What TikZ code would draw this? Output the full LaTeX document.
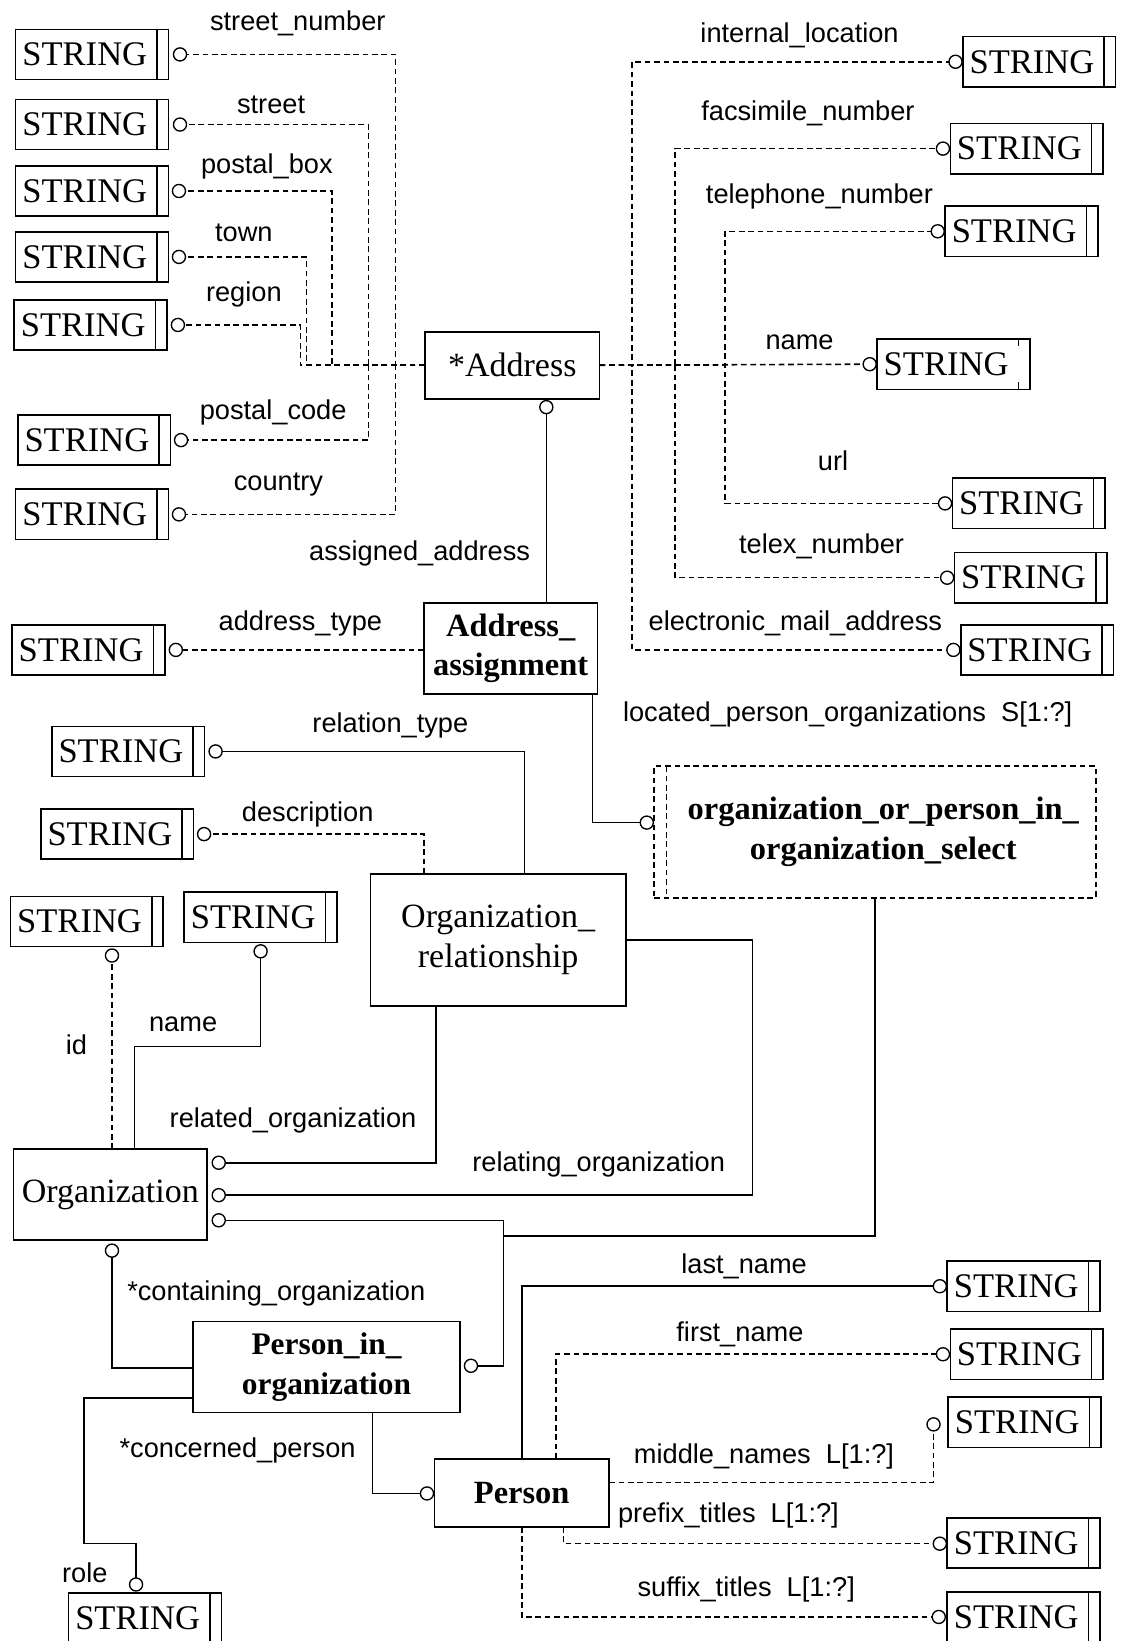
\documentclass[tikz,border=0pt]{standalone}
\usepackage{fontspec}
\setmainfont{Liberation Serif}
\newfontfamily\lblfont{Liberation Sans}
\begin{document}
\begin{tikzpicture}[x=1pt,y=-1pt,
  every node/.style={inner sep=0pt, outer sep=0pt},
  ln/.style={line width=1.5pt},
  dl/.style={line width=1.5pt, dash pattern=on 5.5pt off 3.5pt},
  strbox/.style={draw, line width=1.5pt, minimum width=146pt, minimum height=48pt, font=\fontsize{33}{36}\selectfont},
  ent/.style={draw, line width=1.5pt, align=center, font=\fontsize{32.5}{38}\selectfont},
  bent/.style={draw, line width=1.5pt, align=center, font=\fontsize{31}{38}\selectfont\bfseries},
  oc/.style={circle, draw, fill=white, line width=1.3pt, minimum size=12.5pt},
  lbl/.style={anchor=base, font=\lblfont\fontsize{26}{30}\selectfont},
]
\newcommand\strnode[3]{%
  \node[strbox] (#1) at (#2,#3) {\hspace*{-14pt}STRING};
  \draw[line width=1.5pt] ([xshift=-11pt]#1.north east) -- ([xshift=-11pt]#1.south east);}

\fill[white] (0,0) rectangle (1071,1568);
\useasboundingbox (0,0) rectangle (1071,1568);

% ---------- entities ----------
\node[ent, minimum width=167pt, minimum height=64pt] (A) at (489.5,349) {*Address};
\node[bent, minimum width=166pt, minimum height=87pt] (AA) at (488,619.5) {Address\_\\assignment};
\node[draw, dl, align=center, minimum width=422pt, minimum height=126pt,
      font=\fontsize{31}{38}\selectfont\bfseries] (SEL) at (836,795)
      {\hspace*{16pt}organization\_or\_person\_in\_\\\hspace*{16pt}organization\_select};
\draw[dl] ([xshift=12pt]SEL.north west) -- ([xshift=12pt]SEL.south west);
\node[ent, minimum width=244pt, minimum height=126pt] (OR) at (476,898) {Organization\_\\relationship};
\node[ent, minimum width=185pt, minimum height=87pt] (ORG) at (105.5,1141.5) {Organization};
\node[bent, font=\fontsize{30}{38}\selectfont\bfseries, minimum width=255pt, minimum height=87pt] (PIO) at (312,1306) {Person\_in\_\\organization};
\node[bent, minimum width=167pt, minimum height=65pt] (P) at (498.5,1426.5) {Person};

% ---------- STRING boxes ----------
\strnode{SN}{88}{52}
\strnode{ST}{88}{119}
\strnode{PB}{88}{182.5}
\strnode{TW}{88}{245.5}
\strnode{RG}{86.5}{310.5}
\strnode{PC}{90}{420.5}
\strnode{CT}{88}{491.5}
\strnode{IL}{993}{59}
\strnode{FX}{981}{142}
\strnode{TP}{976}{221}
\node[strbox] (N2) at (911,348) {\hspace*{-14pt}STRING};
\draw[line width=1.5pt] ([xshift=-11pt]N2.north east) -- ++(0,7);
\draw[line width=1.5pt] ([xshift=-11pt]N2.south east) -- ++(0,-7);
\strnode{URL}{983}{481}
\strnode{TX}{985}{552}
\strnode{EM}{991}{621}
\strnode{AT}{84.5}{621}
\strnode{RT}{122.5}{718}
\strnode{DS}{112}{797}
\strnode{ID}{83}{880.5}
\strnode{NM}{249}{876.5}
\strnode{LN}{978}{1229}
\strnode{FN}{981}{1294}
\strnode{MN}{979}{1359}
\strnode{PT}{978}{1474.5}
\strnode{SF}{978}{1545}
\strnode{RL}{138.5}{1546}

% ---------- circles ----------
\node[oc] (cSN) at (172,52) {};
\node[oc] (cST) at (172,119) {};
\node[oc] (cPB) at (171,182.5) {};
\node[oc] (cTW) at (171,245.5) {};
\node[oc] (cRG) at (170,310.5) {};
\node[oc] (cPC) at (173,420.5) {};
\node[oc] (cCT) at (171,491.5) {};
\node[oc] (cIL) at (913,59) {};
\node[oc] (cFX) at (901,142) {};
\node[oc] (cTP) at (896,221) {};
\node[oc] (cN2) at (831,348) {};
\node[oc] (cURL) at (903,481) {};
\node[oc] (cTX) at (905,552) {};
\node[oc] (cEM) at (911,621) {};
\node[oc] (cAD) at (522,389) {};
\node[oc] (cAT) at (168,621) {};
\node[oc] (cSEL) at (618,786) {};
\node[oc] (cRT) at (206,718) {};
\node[oc] (cDS) at (195,797) {};
\node[oc] (cID) at (107,913) {};
\node[oc] (cNM) at (249,909) {};
\node[oc] (cRO) at (209,1111) {};
\node[oc] (cRG2) at (209,1142) {};
\node[oc] (cSO) at (209,1166) {};
\node[oc] (cCO) at (107,1195) {};
\node[oc] (cPIO) at (450,1305) {};
\node[oc] (cP) at (408,1427) {};
\node[oc] (cLN) at (898,1229) {};
\node[oc] (cFN) at (901,1294) {};
\node[oc] (cMN) at (892,1361) {};
\node[oc] (cPT) at (898,1475) {};
\node[oc] (cSF) at (897,1545) {};
\node[oc] (cRL) at (130,1514) {};

% ---------- connectors: Address ----------
\draw[dl] (A.west) -- (378,349) |- (cSN.east);
\draw[dl] (A.west) -- (378,349) |- (cCT.east);
\draw[dl] (A.west) -- (352,349) |- (cST.east);
\draw[dl] (A.west) -- (352,349) |- (cPC.east);
\draw[dl] (A.west) -- (317,349) |- (cPB.east);
\draw[dl] (A.west) -- (293,349) |- (cTW.east);
\draw[dl] (A.west) -- (287,349) |- (cRG.east);
\draw[dl] (A.east) -- (cN2.west);
\draw[dl] (A.east) -- (604,349) |- (cIL.west);
\draw[dl] (A.east) -- (604,349) |- (cEM.west);
\draw[dl] (A.east) -- (645,349) |- (cFX.west);
\draw[dl] (A.east) -- (645,349) |- (cTX.west);
\draw[dl] (A.east) -- (693,349) |- (cTP.west);
\draw[dl] (A.east) -- (693,349) |- (cURL.west);

% ---------- Address_assignment ----------
\draw[ln] (AA.north -| cAD) -- (cAD.south);
\draw[dl] (AA.west |- cAT) -- (cAT.east);
\draw[ln] ([xshift=-5pt]AA.south east) |- (cSEL.west);

% ---------- select ----------
\draw[ln] (SEL.south) |- (481,1181) |- (cSO.east);
\draw[ln] (SEL.south) |- (481,1181) |- (cPIO.east);

% ---------- Organization_relationship ----------
\draw[ln] ([xshift=25pt]OR.north) |- (cRT.east);
\draw[dl] ([xshift=-71pt]OR.north) |- (cDS.east);
\draw[ln] ([xshift=-59.5pt]OR.south) |- (cRO.east);
\draw[ln] (OR.east) -- (719,898) |- (cRG2.east);

% ---------- Organization ----------
\draw[dl] (ORG.north -| cID) -- (cID.south);
\draw[ln] ([xshift=23pt]ORG.north) -- (128.5,1000) -| (cNM.south);

% ---------- Person_in_organization ----------
\draw[ln] ([yshift=-1pt]PIO.west) -| (cCO.south);
\draw[ln] ([yshift=-30pt]PIO.west) -- (80,1336) -- (80,1475) -| (cRL.north);
\draw[ln] ([xshift=44pt]PIO.south) |- (cP.west);

% ---------- Person ----------
\draw[ln] (P.north) |- (cLN.west);
\draw[dl] ([xshift=32.5pt]P.north) |- (cFN.west);
\draw[dl] ([yshift=10pt]P.east) -| (cMN.south);
\draw[dl] ([xshift=40pt]P.south) |- (cPT.west);
\draw[dl] (P.south) |- (cSF.west);

% ---------- labels ----------
\node[lbl] (lSN) at (284.5,29.5) {street\_number};
\node[lbl] (lST) at (259,108) {street};
\node[lbl] (lPB) at (255,166) {postal\_box};
\node[lbl] (lTW) at (233,231) {town};
\node[lbl] (lRG) at (233,288) {region};
\node[lbl] (lPC) at (261,401) {postal\_code};
\node[lbl] (lCT) at (266,469) {country};
\node[lbl] (lIL) at (764,41) {internal\_location};
\node[lbl] (lFX) at (772,115) {facsimile\_number};
\node[lbl] (lTP) at (783,194) {telephone\_number};
\node[lbl] (lN2) at (764,334) {name};
\node[lbl] (lURL) at (796,450) {url};
\node[lbl] (lTX) at (785,529) {telex\_number};
\node[lbl] (lEM) at (760,602) {electronic\_mail\_address};
\node[lbl] (lAD) at (401,536) {assigned\_address};
\node[lbl] (lAT) at (287,602) {address\_type};
\node[lbl] (lSEL) at (810,689) {located\_person\_organizations\ \ S[1:?]};
\node[lbl] (lRT) at (373,700) {relation\_type};
\node[lbl] (lDS) at (294,785) {description};
\node[lbl] (lID) at (73,1008) {id};
\node[lbl] (lNM) at (175,986) {name};
\node[lbl] (lRO) at (280,1077) {related\_organization};
\node[lbl] (lRG2) at (572,1119) {relating\_organization};
\node[lbl] (lCO) at (264,1243) {*containing\_organization};
\node[lbl] (lCP) at (227,1393) {*concerned\_person};
\node[lbl] (lRL) at (81,1512) {role};
\node[lbl] (lLN) at (711,1217) {last\_name};
\node[lbl] (lFN) at (707,1282) {first\_name};
\node[lbl] (lMN) at (730,1398) {middle\_names\ \ L[1:?]};
\node[lbl] (lPT) at (696,1455) {prefix\_titles\ \ L[1:?]};
\node[lbl] (lSF) at (713,1525) {suffix\_titles\ \ L[1:?]};
\end{tikzpicture}
\end{document}
